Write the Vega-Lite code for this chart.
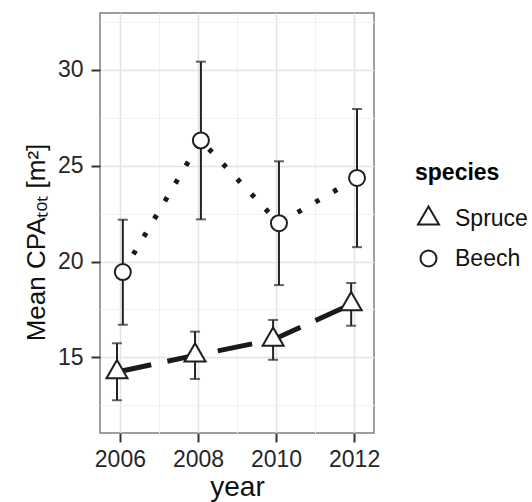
{
  "$schema": "https://vega.github.io/schema/vega-lite/v6.json",
  "autosize": "none",
  "width": 274,
  "height": 420,
  "padding": {"left": 100, "top": 13, "right": 158, "bottom": 69},
  "background": "white",
  "config": {
    "view": {"stroke": "#7f7f7f", "strokeWidth": 1.5},
    "font": "Liberation Sans"
  },
  "data": {
    "values": [
      {"species": "Spruce", "year": 2006, "mean": 14.23, "lo": 12.76, "hi": 15.73},
      {"species": "Spruce", "year": 2008, "mean": 15.1, "lo": 13.87, "hi": 16.34},
      {"species": "Spruce", "year": 2010, "mean": 15.92, "lo": 14.87, "hi": 16.95},
      {"species": "Spruce", "year": 2012, "mean": 17.77, "lo": 16.65, "hi": 18.88},
      {"species": "Beech", "year": 2006, "mean": 19.45, "lo": 16.7, "hi": 22.18},
      {"species": "Beech", "year": 2008, "mean": 26.32, "lo": 22.2, "hi": 30.43},
      {"species": "Beech", "year": 2010, "mean": 22.0, "lo": 18.77, "hi": 25.23},
      {"species": "Beech", "year": 2012, "mean": 24.36, "lo": 20.75, "hi": 27.96}
    ]
  },
  "transform": [
    {"calculate": "datum.year + (datum.species === 'Spruce' ? -0.075 : 0.075)", "as": "xd"}
  ],
  "encoding": {
    "x": {
      "field": "xd", "type": "quantitative",
      "scale": {"domain": [2005.49, 2012.51], "nice": false, "zero": false},
      "axis": {
        "title": "year", "titleFontSize": 28, "titleFontWeight": "normal", "titleColor": "#111",
        "titleY": 62, "titleBaseline": "alphabetic",
        "values": [2006, 2007, 2008, 2009, 2010, 2011, 2012],
        "format": "d",
        "labelExpr": "datum.value % 2 === 0 ? datum.label : ''",
        "labelFontSize": 23, "labelColor": "#262626", "labelPadding": 6,
        "labelFlush": false, "labelOverlap": false, "labelBound": false,
        "domain": false,
        "tickSize": 9, "tickWidth": 2, "tickColor": "#333333",
        "tickOpacity": {"condition": {"test": "datum.value % 2 === 0", "value": 1}, "value": 0},
        "gridColor": {"condition": {"test": "datum.value % 2 === 0", "value": "#e3e3e3"}, "value": "#f1f1f1"},
        "gridWidth": {"condition": {"test": "datum.value % 2 === 0", "value": 1.5}, "value": 1}
      }
    },
    "y": {
      "field": "mean", "type": "quantitative",
      "scale": {"domain": [11.05, 32.97], "nice": false, "zero": false},
      "axis": {
        "title": "Mean CPAₜₒₜ [m²]", "titleFontSize": 26, "titleFontWeight": "normal", "titleColor": "#111",
        "titleX": -56, "titleY": 229, "titleAngle": -90, "titleBaseline": "alphabetic", "titleAlign": "center",
        "values": [12.5, 15, 17.5, 20, 22.5, 25, 27.5, 30, 32.5],
        "labelExpr": "datum.value % 5 === 0 ? datum.label : ''",
        "labelFontSize": 23, "labelColor": "#262626", "labelPadding": 8,
        "labelOverlap": false, "labelBound": false, "labelFlush": false,
        "domain": false,
        "tickSize": 9, "tickWidth": 2, "tickColor": "#333333",
        "tickOpacity": {"condition": {"test": "datum.value % 5 === 0", "value": 1}, "value": 0},
        "gridColor": {"condition": {"test": "datum.value % 5 === 0", "value": "#e3e3e3"}, "value": "#f1f1f1"},
        "gridWidth": {"condition": {"test": "datum.value % 5 === 0", "value": 1.5}, "value": 1}
      }
    }
  },
  "layer": [
    {
      "mark": {"type": "line", "color": "#1a1a1a", "strokeWidth": 5, "strokeCap": "butt"},
      "encoding": {
        "detail": {"field": "species"},
        "strokeDash": {
          "field": "species", "type": "nominal",
          "scale": {"domain": ["Beech", "Spruce"], "range": [[4.5, 16.1], [35, 16.5]]},
          "legend": null
        }
      }
    },
    {
      "mark": {"type": "errorbar", "ticks": true, "thickness": 2, "size": 10, "color": "#222222"},
      "encoding": {
        "y": {"field": "lo", "type": "quantitative"},
        "y2": {"field": "hi"}
      }
    },
    {
      "mark": {"type": "point", "filled": true, "fill": "white", "stroke": "#1e1e1e", "strokeWidth": 2, "size": 588, "opacity": 1},
      "encoding": {
        "shape": {
          "field": "species", "type": "nominal",
          "scale": {
            "domain": ["Spruce", "Beech"],
            "range": ["M0,-1L0.866,0.5L-0.866,0.5Z", "M-0.66,0A0.66,0.66 0 1,0 0.66,0A0.66,0.66 0 1,0 -0.66,0Z"]
          },
          "legend": {
            "orient": "none", "legendX": 315, "legendY": 149,
            "title": "species", "titleFontSize": 23, "titleFontWeight": "bold", "titleColor": "#000000",
            "titlePadding": 20,
            "labelFontSize": 23, "labelColor": "#111111", "labelOffset": 13,
            "symbolSize": 588, "symbolStrokeWidth": 2,
            "rowPadding": 14
          }
        }
      }
    }
  ]
}
